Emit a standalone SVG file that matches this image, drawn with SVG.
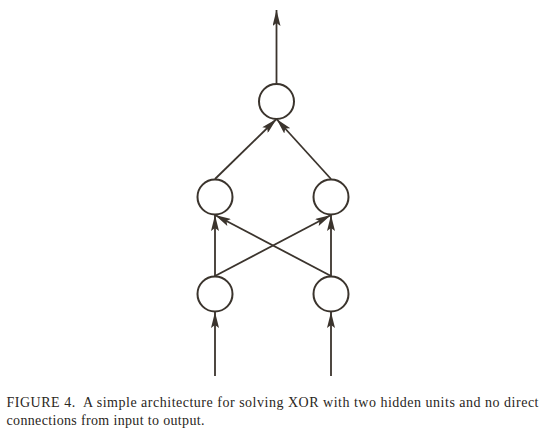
<svg xmlns="http://www.w3.org/2000/svg" width="550" height="439" viewBox="0 0 550 439">
<defs>
<marker id="ah" viewBox="0 0 16 8" refX="16" refY="4" markerWidth="16" markerHeight="8" markerUnits="userSpaceOnUse" orient="auto">
<path d="M0,0 L16,4 L0,8 L3,4 Z" fill="#3b342d"/>
</marker>
<style>
.n{fill:none;stroke:#3b342d;stroke-width:2}
.c{fill:none;stroke:#3b342d;stroke-width:1.8;marker-end:url(#ah)}
.t{font-family:"Liberation Serif",serif;font-size:14px;fill:#2a2622}
</style>
</defs>
<rect width="550" height="439" fill="#fff"/>
<g id="connectors">
<line class="c" x1="276.5" y1="84" x2="276.5" y2="10"/>
<line class="c" x1="215" y1="179" x2="276.5" y2="119"/>
<line class="c" x1="331" y1="179" x2="276.5" y2="119"/>
<line class="c" x1="215" y1="276" x2="215" y2="215"/>
<line class="c" x1="331" y1="276" x2="331" y2="215"/>
<line class="c" x1="215" y1="276" x2="331" y2="215"/>
<line class="c" x1="331" y1="276" x2="215" y2="215"/>
<line class="c" x1="215" y1="376" x2="215" y2="312"/>
<line class="c" x1="331" y1="376" x2="331" y2="312"/>
</g>
<g id="output"><circle class="n" cx="276.5" cy="101.5" r="17.5"/></g>
<g id="hidden1"><circle class="n" cx="215" cy="197" r="17.5"/></g>
<g id="hidden2"><circle class="n" cx="331" cy="197" r="17.5"/></g>
<g id="input1"><circle class="n" cx="215" cy="294" r="17.5"/></g>
<g id="input2"><circle class="n" cx="331" cy="294" r="17.5"/></g>
<g id="caption">
<text class="t" x="6.5" y="407" textLength="532" lengthAdjust="spacing" xml:space="preserve">FIGURE 4.  A simple architecture for solving XOR with two hidden units and no direct</text>
<text class="t" x="6.5" y="425" textLength="198" lengthAdjust="spacing">connections from input to output.</text>
</g>
</svg>
